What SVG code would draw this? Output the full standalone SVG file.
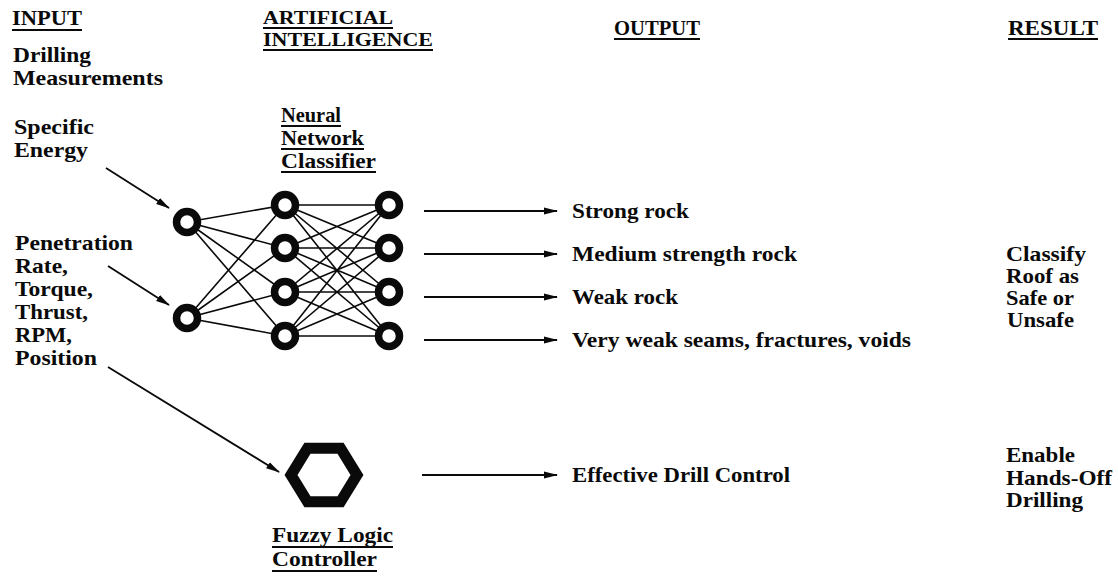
<svg xmlns="http://www.w3.org/2000/svg" width="1118" height="576" viewBox="0 0 1118 576">
  <style>
    text { font-family: "Liberation Serif", "Times New Roman", serif; font-weight: bold; font-size: 21px; fill: #0a0a0a; }
    .head2 { font-size: 19px; }
    .ul { stroke: #0a0a0a; stroke-width: 2; }
    .edge { stroke: #0a0a0a; stroke-width: 1.6; fill: none; }
    .arrow { stroke: #0a0a0a; stroke-width: 1.8; fill: none; marker-end: url(#head); }
    .neuron { fill: #fff; stroke: #0a0a0a; stroke-width: 7.5; }
    .hex { fill: #fff; stroke: #0a0a0a; stroke-width: 11; stroke-linejoin: miter; }
  </style>
  <defs>
    <marker id="head" viewBox="0 0 14 8" refX="13" refY="4" markerWidth="14" markerHeight="8" markerUnits="userSpaceOnUse" orient="auto">
      <path d="M0,0.5 L14,4 L0,7.5 Z" fill="#0a0a0a"/>
    </marker>
  </defs>
  <rect width="1118" height="576" fill="#fff"/>

  <!-- column headings -->
  <g id="heading-input">
    <text x="12" y="25" textLength="70" lengthAdjust="spacingAndGlyphs">INPUT</text>
    <line class="ul" x1="12" y1="30" x2="82" y2="30"/>
  </g>
  <g id="heading-ai">
    <text class="head2" x="263" y="24" textLength="130" lengthAdjust="spacingAndGlyphs">ARTIFICIAL</text>
    <line class="ul" x1="263" y1="28" x2="393" y2="28"/>
    <text class="head2" x="263" y="46" textLength="170" lengthAdjust="spacingAndGlyphs">INTELLIGENCE</text>
    <line class="ul" x1="263" y1="50" x2="433" y2="50"/>
  </g>
  <g id="heading-output">
    <text x="614" y="35" textLength="86" lengthAdjust="spacingAndGlyphs">OUTPUT</text>
    <line class="ul" x1="614" y1="39" x2="700" y2="39"/>
  </g>
  <g id="heading-result">
    <text x="1008" y="35" textLength="90" lengthAdjust="spacingAndGlyphs">RESULT</text>
    <line class="ul" x1="1008" y1="39" x2="1098" y2="39"/>
  </g>

  <!-- input column -->
  <g id="drilling-measurements">
    <text x="13" y="62" textLength="78" lengthAdjust="spacingAndGlyphs">Drilling</text>
    <text x="13" y="85" textLength="150" lengthAdjust="spacingAndGlyphs">Measurements</text>
  </g>
  <g id="specific-energy">
    <text x="14" y="134" textLength="80" lengthAdjust="spacingAndGlyphs">Specific</text>
    <text x="14" y="157" textLength="74" lengthAdjust="spacingAndGlyphs">Energy</text>
  </g>
  <g id="drive-parameters">
    <text x="15" y="250" textLength="118" lengthAdjust="spacingAndGlyphs">Penetration</text>
    <text x="15" y="273" textLength="53" lengthAdjust="spacingAndGlyphs">Rate,</text>
    <text x="15" y="296" textLength="78" lengthAdjust="spacingAndGlyphs">Torque,</text>
    <text x="15" y="319" textLength="73" lengthAdjust="spacingAndGlyphs">Thrust,</text>
    <text x="15" y="342" textLength="57" lengthAdjust="spacingAndGlyphs">RPM,</text>
    <text x="15" y="365" textLength="82" lengthAdjust="spacingAndGlyphs">Position</text>
  </g>

  <!-- classifier label -->
  <g id="classifier-label">
    <text x="281" y="122" textLength="60" lengthAdjust="spacingAndGlyphs">Neural</text>
    <line class="ul" x1="281" y1="126" x2="341" y2="126"/>
    <text x="281" y="145" textLength="83" lengthAdjust="spacingAndGlyphs">Network</text>
    <line class="ul" x1="281" y1="149" x2="364" y2="149"/>
    <text x="281" y="168" textLength="95" lengthAdjust="spacingAndGlyphs">Classifier</text>
    <line class="ul" x1="281" y1="172" x2="376" y2="172"/>
  </g>

  <!-- connectors -->
  <g id="connectors">
    <!-- input to hidden -->
    <path class="edge" d="M187,222 L285,205 M187,222 L285,248 M187,222 L285,292 M187,222 L285,336
                          M187,318 L285,205 M187,318 L285,248 M187,318 L285,292 M187,318 L285,336"/>
    <!-- hidden to output -->
    <path class="edge" d="M285,205 L389,205 M285,205 L389,248 M285,205 L389,292 M285,205 L389,336
                          M285,248 L389,205 M285,248 L389,248 M285,248 L389,292 M285,248 L389,336
                          M285,292 L389,205 M285,292 L389,248 M285,292 L389,292 M285,292 L389,336
                          M285,336 L389,205 M285,336 L389,248 M285,336 L389,292 M285,336 L389,336"/>
    <!-- measurement feeds -->
    <line class="arrow" x1="106" y1="168" x2="169" y2="208"/>
    <line class="arrow" x1="108" y1="266" x2="169" y2="305"/>
    <line class="arrow" x1="108" y1="367" x2="279" y2="472"/>
    <!-- outputs -->
    <line class="arrow" x1="424" y1="211" x2="557" y2="211"/>
    <line class="arrow" x1="424" y1="254" x2="557" y2="254"/>
    <line class="arrow" x1="424" y1="297" x2="557" y2="297"/>
    <line class="arrow" x1="424" y1="340" x2="557" y2="340"/>
    <line class="arrow" x1="422" y1="475" x2="557" y2="475"/>
  </g>

  <!-- neural network nodes -->
  <g id="input-layer">
    <circle class="neuron" cx="187" cy="222" r="10.5"/>
    <circle class="neuron" cx="187" cy="318" r="10.5"/>
  </g>
  <g id="hidden-layer">
    <circle class="neuron" cx="285" cy="205" r="10.5"/>
    <circle class="neuron" cx="285" cy="248" r="10.5"/>
    <circle class="neuron" cx="285" cy="292" r="10.5"/>
    <circle class="neuron" cx="285" cy="336" r="10.5"/>
  </g>
  <g id="output-layer">
    <circle class="neuron" cx="389" cy="205" r="10.5"/>
    <circle class="neuron" cx="389" cy="248" r="10.5"/>
    <circle class="neuron" cx="389" cy="292" r="10.5"/>
    <circle class="neuron" cx="389" cy="336" r="10.5"/>
  </g>

  <!-- fuzzy logic controller -->
  <g id="fuzzy-controller">
    <polygon class="hex" points="291,475 307.5,448.2 340.5,448.2 357,475 340.5,501.8 307.5,501.8"/>
    <text x="272" y="542" textLength="121" lengthAdjust="spacingAndGlyphs">Fuzzy Logic</text>
    <line class="ul" x1="272" y1="547" x2="393" y2="547"/>
    <text x="272" y="566" textLength="105" lengthAdjust="spacingAndGlyphs">Controller</text>
    <line class="ul" x1="272" y1="571" x2="377" y2="571"/>
  </g>

  <!-- output classes -->
  <g id="out-strong"><text x="572" y="218" textLength="117" lengthAdjust="spacingAndGlyphs">Strong rock</text></g>
  <g id="out-medium"><text x="572" y="261" textLength="225" lengthAdjust="spacingAndGlyphs">Medium strength rock</text></g>
  <g id="out-weak"><text x="572" y="304" textLength="106" lengthAdjust="spacingAndGlyphs">Weak rock</text></g>
  <g id="out-very-weak"><text x="572" y="347" textLength="339" lengthAdjust="spacingAndGlyphs">Very weak seams, fractures, voids</text></g>
  <g id="out-drill-control"><text x="572" y="482" textLength="218" lengthAdjust="spacingAndGlyphs">Effective Drill Control</text></g>

  <!-- results -->
  <g id="result-roof">
    <text x="1006" y="261" textLength="80" lengthAdjust="spacingAndGlyphs">Classify</text>
    <text x="1006" y="283" textLength="73" lengthAdjust="spacingAndGlyphs">Roof as</text>
    <text x="1006" y="305" textLength="68" lengthAdjust="spacingAndGlyphs">Safe or</text>
    <text x="1007" y="327" textLength="67" lengthAdjust="spacingAndGlyphs">Unsafe</text>
  </g>
  <g id="result-drilling">
    <text x="1006" y="462" textLength="69" lengthAdjust="spacingAndGlyphs">Enable</text>
    <text x="1006" y="485" textLength="106" lengthAdjust="spacingAndGlyphs">Hands-Off</text>
    <text x="1006" y="507" textLength="77" lengthAdjust="spacingAndGlyphs">Drilling</text>
  </g>
</svg>
